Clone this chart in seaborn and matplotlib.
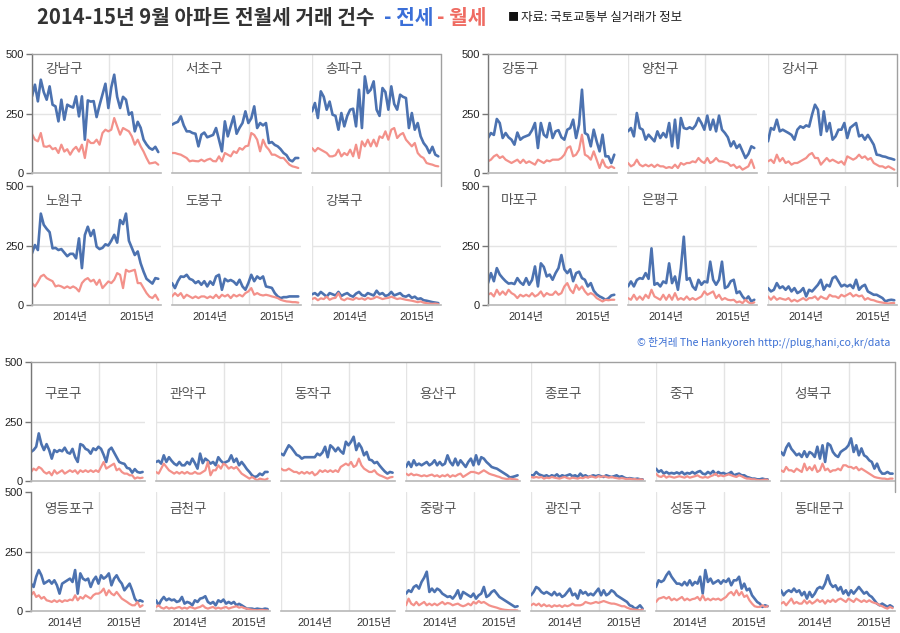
import matplotlib
matplotlib.use('Agg')
import matplotlib.pyplot as plt
import seaborn as sns
import pandas as pd
from matplotlib.lines import Line2D

# ---------------- data (biweekly, 2014-01-01 .. 2015-08-26) ----------------
DATES = pd.date_range('2014-01-01', periods=44, freq='14D')

gangnam_j = [322, 371, 301, 392, 340, 308, 364, 287, 280, 217, 308,
             224, 287, 280, 275, 322, 238, 322, 140, 305, 300, 302,
             235, 285, 330, 375, 273, 360, 413, 320, 273, 320, 308,
             245, 255, 175, 215, 190, 140, 120, 105, 98, 110, 88]
gangnam_w = [164, 140, 133, 168, 112, 110, 115, 100, 105, 84, 119,
             90, 100, 77, 98, 110, 90, 119, 63, 140, 126, 126,
             140, 119, 168, 182, 175, 182, 231, 196, 161, 189, 182,
             175, 154, 119, 140, 112, 90, 63, 40, 42, 45, 35]
seocho_j = [203, 210, 215, 238, 200, 175, 175, 168, 165, 112, 161,
            170, 150, 155, 160, 189, 140, 91, 217, 154, 196, 238,
            165, 190, 210, 259, 210, 230, 280, 189, 210, 200, 210,
            126, 130, 118, 112, 100, 84, 75, 55, 49, 63, 63]
seocho_w = [84, 84, 80, 77, 70, 63, 49, 52, 50, 49, 56,
            49, 56, 60, 50, 49, 70, 49, 84, 77, 70, 91,
            84, 105, 98, 112, 115, 168, 160, 140, 91, 140, 112,
            98, 77, 77, 70, 63, 63, 49, 35, 28, 25, 21]
songpa_j = [259, 294, 231, 343, 320, 266, 300, 245, 240, 182, 252,
            196, 240, 266, 270, 196, 350, 189, 406, 336, 350, 385,
            266, 240, 357, 340, 266, 364, 290, 266, 329, 320, 315,
            189, 252, 182, 210, 154, 126, 110, 84, 110, 77, 70]
songpa_w = [105, 91, 105, 98, 91, 84, 70, 70, 75, 98, 70,
            84, 75, 98, 70, 119, 63, 133, 112, 140, 112, 140,
            112, 154, 147, 175, 140, 182, 189, 147, 161, 168, 140,
            126, 112, 126, 84, 70, 63, 42, 38, 35, 30, 28]
nowon_j = [217, 252, 231, 384, 337, 320, 306, 238, 240, 231, 235,
           220, 205, 215, 215, 196, 280, 155, 294, 329, 290, 315,
           245, 235, 240, 255, 250, 270, 295, 262, 357, 340, 384,
           270, 240, 210, 225, 175, 140, 110, 100, 90, 113, 110]
nowon_w = [92, 78, 97, 120, 127, 113, 106, 100, 78, 82, 78,
           71, 78, 71, 78, 71, 57, 92, 106, 113, 99, 106,
           85, 106, 71, 85, 99, 92, 106, 134, 127, 71, 148,
           140, 144, 148, 92, 92, 71, 50, 35, 29, 43, 22]
dobong_j = [92, 71, 100, 120, 118, 127, 110, 105, 92, 100, 85,
            100, 78, 99, 85, 120, 127, 64, 110, 100, 105, 98,
            85, 106, 78, 64, 92, 127, 100, 120, 110, 120, 78,
            75, 72, 50, 36, 29, 33, 33, 36, 36, 36, 36]
dobong_w = [36, 50, 38, 50, 29, 43, 36, 29, 36, 29, 36,
            36, 29, 36, 29, 43, 29, 43, 36, 43, 29, 43,
            36, 43, 36, 50, 57, 71, 43, 50, 43, 40, 43,
            40, 36, 33, 29, 22, 18, 15, 14, 12, 12, 10]
gangbuk_j = [45, 50, 40, 55, 45, 35, 50, 45, 40, 55, 38,
             45, 50, 40, 35, 48, 55, 42, 38, 50, 45, 40,
             60, 45, 50, 38, 42, 55, 40, 45, 50, 38, 35,
             42, 30, 35, 25, 28, 20, 18, 15, 12, 10, 8]
gangbuk_w = [25, 30, 20, 28, 25, 35, 22, 28, 30, 50, 25,
             20, 28, 25, 22, 30, 25, 28, 22, 30, 25, 28,
             35, 30, 25, 28, 30, 35, 30, 25, 28, 25, 22,
             20, 18, 15, 12, 15, 10, 8, 6, 5, 6, 4]
gangdong_j = [147, 168, 160, 227, 210, 147, 168, 150, 140, 119, 170,
              140, 150, 155, 160, 180, 210, 105, 210, 161, 150, 210,
              147, 175, 180, 150, 140, 182, 189, 224, 147, 203, 350,
              168, 160, 112, 182, 133, 91, 161, 70, 70, 42, 77]
gangdong_w = [49, 56, 70, 77, 63, 70, 56, 49, 42, 49, 56,
              42, 56, 42, 49, 42, 35, 56, 49, 42, 53, 49,
              56, 56, 56, 63, 77, 105, 112, 70, 77, 98, 161,
              77, 70, 56, 91, 56, 21, 56, 28, 21, 28, 21]
yangcheon_j = [175, 189, 154, 252, 189, 182, 140, 161, 147, 133, 175,
               147, 168, 150, 210, 112, 224, 105, 231, 189, 185, 192,
               185, 200, 231, 210, 182, 241, 182, 224, 175, 241, 182,
               168, 150, 112, 133, 105, 119, 91, 63, 80, 112, 105]
yangcheon_w = [42, 28, 35, 56, 35, 28, 35, 28, 35, 25, 35,
               28, 28, 21, 25, 21, 35, 21, 42, 35, 42, 42,
               49, 45, 63, 49, 42, 63, 42, 49, 63, 49, 49,
               45, 42, 30, 35, 21, 28, 14, 21, 28, 56, 21]
gangseo_j = [133, 189, 182, 224, 175, 182, 175, 168, 160, 140, 182,
             196, 190, 200, 195, 245, 287, 266, 160, 259, 175, 210,
             140, 154, 182, 182, 210, 147, 190, 200, 210, 154, 160,
             140, 160, 140, 119, 77, 75, 70, 68, 63, 60, 56]
gangseo_w = [49, 56, 42, 77, 49, 63, 42, 49, 35, 42, 42,
             49, 56, 63, 77, 84, 63, 63, 35, 49, 63, 49,
             56, 49, 42, 49, 35, 70, 63, 56, 63, 77, 63,
             70, 56, 63, 42, 35, 28, 28, 21, 28, 21, 14]
mapo_j = [92, 134, 100, 155, 128, 113, 100, 90, 92, 88, 113,
          95, 85, 113, 85, 105, 162, 78, 175, 160, 120, 128,
          106, 134, 155, 210, 150, 134, 150, 100, 134, 140, 113,
          106, 78, 92, 60, 45, 36, 30, 22, 28, 40, 43]
mapo_w = [43, 50, 36, 64, 43, 57, 43, 64, 50, 43, 29,
          43, 36, 43, 36, 50, 36, 43, 57, 36, 50, 43,
          43, 57, 43, 50, 78, 92, 64, 50, 85, 64, 78,
          57, 43, 50, 43, 29, 22, 15, 22, 20, 22, 22]
eunpyeong_j = [78, 99, 78, 105, 113, 110, 134, 110, 238, 85, 92,
               78, 99, 92, 175, 92, 120, 64, 155, 287, 106, 113,
               78, 64, 106, 85, 99, 95, 182, 106, 85, 106, 182,
               71, 78, 100, 106, 50, 57, 36, 22, 36, 15, 22]
eunpyeong_w = [29, 22, 43, 22, 36, 22, 43, 29, 64, 36, 29,
               22, 43, 22, 43, 22, 50, 22, 29, 22, 36, 22,
               29, 22, 29, 36, 57, 43, 50, 57, 29, 43, 22,
               29, 22, 20, 22, 11, 15, 8, 22, 11, 6, 11]
seodaemun_j = [71, 57, 64, 92, 71, 78, 64, 78, 57, 71, 50,
               57, 71, 36, 64, 57, 71, 85, 106, 64, 85, 78,
               113, 120, 99, 78, 85, 78, 85, 71, 106, 64, 78,
               85, 57, 50, 43, 43, 36, 29, 15, 20, 22, 20]
seodaemun_w = [36, 22, 36, 22, 29, 25, 22, 29, 15, 22, 15,
               22, 29, 20, 29, 29, 36, 22, 36, 29, 25, 43,
               36, 36, 29, 43, 36, 43, 50, 36, 43, 36, 40,
               22, 29, 22, 20, 15, 12, 10, 8, 6, 8, 8]
guro_j = [122, 130, 144, 200, 155, 130, 155, 130, 94, 130, 122,
          130, 125, 140, 120, 115, 135, 100, 80, 155, 150, 135,
          130, 115, 137, 130, 144, 135, 110, 80, 130, 140, 120,
          100, 80, 75, 72, 55, 52, 35, 50, 38, 35, 38]
guro_w = [38, 52, 45, 59, 52, 38, 31, 38, 24, 45, 31,
          38, 45, 31, 38, 45, 38, 45, 31, 45, 38, 45,
          38, 45, 38, 45, 38, 59, 80, 52, 59, 66, 73,
          45, 52, 38, 31, 31, 24, 24, 10, 15, 12, 14]
gwanak_j = [80, 85, 73, 108, 80, 100, 85, 73, 66, 80, 66,
            66, 80, 70, 94, 75, 52, 115, 75, 94, 85, 73,
            80, 66, 100, 85, 75, 80, 85, 108, 80, 94, 66,
            80, 66, 50, 38, 24, 17, 20, 31, 25, 38, 38]
gwanak_w = [38, 31, 52, 73, 59, 45, 38, 31, 38, 31, 38,
            31, 38, 31, 31, 38, 31, 31, 38, 45, 80, 24,
            45, 45, 66, 52, 73, 66, 52, 59, 52, 59, 45,
            31, 24, 17, 10, 17, 10, 3, 10, 7, 5, 10]
dongjak_j = [115, 108, 130, 150, 140, 125, 110, 105, 94, 100, 100,
             100, 100, 100, 115, 108, 120, 144, 100, 150, 140, 125,
             140, 125, 115, 165, 150, 165, 186, 130, 158, 140, 108,
             122, 90, 87, 75, 80, 65, 52, 40, 31, 38, 35]
dongjak_w = [52, 45, 45, 52, 45, 38, 38, 31, 38, 31, 38,
             31, 38, 24, 31, 45, 38, 45, 38, 45, 38, 45,
             38, 59, 66, 73, 66, 80, 59, 66, 94, 66, 52,
             45, 38, 38, 45, 31, 24, 20, 15, 10, 15, 17]
yongsan_j = [59, 80, 59, 87, 66, 73, 66, 73, 80, 66, 73,
             87, 66, 80, 66, 73, 108, 80, 66, 94, 66, 87,
             73, 59, 80, 94, 66, 108, 70, 100, 94, 80, 70,
             59, 55, 52, 45, 38, 31, 24, 15, 17, 20, 24]
yongsan_w = [31, 24, 31, 24, 27, 24, 20, 24, 20, 24, 27,
             20, 24, 17, 24, 20, 27, 17, 24, 20, 27, 31,
             17, 24, 31, 38, 38, 35, 31, 38, 45, 38, 31,
             27, 24, 20, 17, 12, 10, 8, 10, 8, 7, 5]
jongno_j = [24, 24, 38, 28, 24, 20, 24, 17, 24, 20, 28,
            17, 24, 20, 24, 28, 20, 24, 17, 31, 20, 24,
            17, 20, 24, 20, 24, 20, 17, 24, 20, 17, 20,
            24, 17, 20, 14, 10, 12, 10, 8, 10, 7, 7]
jongno_w = [17, 14, 17, 14, 17, 10, 14, 12, 17, 14, 12,
            10, 14, 17, 12, 10, 14, 12, 10, 14, 12, 17,
            14, 20, 17, 14, 20, 17, 20, 17, 14, 17, 14,
            12, 10, 12, 10, 8, 10, 7, 8, 5, 7, 6]
junggu_j = [52, 38, 45, 31, 38, 31, 34, 31, 36, 31, 38,
            28, 34, 31, 38, 31, 38, 42, 31, 28, 38, 31,
            42, 28, 38, 31, 34, 28, 31, 38, 24, 28, 31,
            24, 24, 17, 14, 10, 10, 7, 7, 10, 7, 7]
junggu_w = [31, 20, 17, 24, 14, 20, 17, 14, 17, 20, 17,
            14, 20, 14, 17, 20, 24, 17, 14, 17, 14, 20,
            24, 31, 20, 24, 20, 24, 28, 24, 20, 17, 24,
            20, 14, 10, 10, 7, 7, 4, 3, 4, 6, 5]
seongbuk_j = [122, 108, 140, 158, 135, 122, 108, 115, 101, 125, 101,
              122, 115, 101, 144, 94, 150, 80, 158, 150, 122, 108,
              101, 122, 130, 137, 150, 179, 122, 150, 108, 137, 108,
              101, 87, 80, 52, 73, 45, 31, 31, 38, 31, 31]
seongbuk_w = [45, 38, 59, 45, 45, 38, 52, 45, 38, 73, 45,
              59, 45, 66, 38, 45, 73, 45, 52, 38, 45, 45,
              52, 45, 66, 66, 59, 59, 52, 59, 45, 52, 45,
              38, 31, 24, 17, 14, 12, 10, 10, 7, 10, 10]
yeongdeungpo_j = [115, 101, 144, 172, 150, 115, 122, 129, 115, 129, 108,
                  73, 115, 122, 129, 136, 122, 172, 73, 158, 136, 129,
                  136, 101, 129, 144, 115, 150, 136, 144, 158, 108, 136,
                  150, 129, 115, 87, 101, 115, 87, 52, 38, 45, 40]
yeongdeungpo_w = [66, 80, 59, 66, 52, 59, 45, 42, 38, 45, 38,
                  45, 38, 45, 42, 48, 45, 66, 45, 59, 52, 66,
                  59, 52, 66, 73, 73, 80, 94, 66, 87, 73, 66,
                  80, 66, 52, 45, 38, 30, 24, 24, 38, 17, 24]
geumcheon_j = [45, 24, 45, 59, 45, 52, 45, 48, 38, 42, 59,
               31, 38, 34, 24, 45, 38, 52, 55, 62, 38, 31,
               38, 24, 45, 38, 48, 31, 38, 31, 38, 24, 30,
               24, 17, 10, 10, 10, 7, 10, 8, 7, 10, 8]
geumcheon_w = [17, 24, 14, 10, 17, 10, 14, 10, 14, 17, 10,
               14, 10, 17, 14, 10, 14, 17, 24, 14, 10, 14,
               17, 10, 14, 10, 14, 17, 10, 14, 17, 20, 14,
               17, 12, 10, 7, 5, 4, 3, 4, 5, 3, 3]
jungnang_j = [73, 87, 80, 101, 108, 94, 122, 140, 165, 80, 94,
              80, 94, 87, 73, 66, 59, 62, 52, 66, 87, 52,
              80, 73, 66, 59, 73, 52, 66, 73, 101, 59, 66,
              80, 87, 73, 59, 52, 45, 38, 31, 24, 17, 20]
jungnang_w = [24, 52, 31, 24, 38, 24, 31, 38, 24, 31, 24,
              31, 24, 31, 38, 28, 34, 31, 24, 28, 31, 24,
              20, 24, 31, 24, 38, 31, 42, 34, 38, 31, 24,
              20, 17, 14, 10, 7, 5, 4, 3, 3, 3, 2]
gwangjin_j = [66, 80, 101, 94, 80, 73, 80, 73, 66, 80, 66,
              73, 59, 66, 80, 94, 66, 73, 52, 87, 73, 80,
              66, 73, 66, 80, 94, 66, 87, 66, 73, 87, 80,
              66, 59, 52, 45, 38, 24, 20, 10, 14, 24, 10]
gwangjin_w = [24, 31, 24, 31, 20, 28, 20, 24, 17, 24, 20,
              24, 17, 24, 20, 24, 31, 24, 24, 24, 28, 38,
              34, 31, 34, 38, 34, 38, 42, 38, 34, 31, 31,
              28, 24, 20, 20, 14, 10, 7, 6, 4, 3, 6]
seongdong_j = [101, 129, 122, 129, 150, 165, 144, 129, 115, 115, 108,
               122, 108, 129, 108, 122, 115, 144, 73, 172, 122, 136,
               115, 122, 129, 115, 129, 122, 136, 108, 129, 129, 144,
               94, 115, 87, 94, 66, 52, 38, 31, 17, 24, 20]
seongdong_w = [38, 52, 55, 59, 52, 59, 45, 52, 45, 52, 59,
               45, 52, 45, 50, 52, 59, 45, 66, 45, 52, 45,
               52, 48, 52, 45, 52, 59, 73, 80, 66, 87, 66,
               80, 59, 66, 45, 31, 20, 17, 17, 24, 17, 20]
dongdaemun_j = [87, 66, 80, 87, 80, 94, 80, 87, 66, 80, 52,
                80, 59, 73, 94, 101, 94, 115, 150, 115, 101, 108,
                87, 101, 73, 87, 66, 87, 73, 87, 101, 87, 73,
                80, 66, 59, 45, 31, 24, 31, 24, 17, 24, 17]
dongdaemun_w = [31, 38, 24, 38, 52, 31, 38, 31, 31, 45, 31,
                42, 31, 38, 48, 38, 45, 31, 45, 38, 48, 38,
                48, 52, 45, 38, 52, 45, 38, 52, 45, 38, 45,
                38, 45, 38, 34, 31, 24, 20, 14, 10, 17, 12]

SERIES = {
    '강남구': (gangnam_j, gangnam_w), '서초구': (seocho_j, seocho_w),
    '송파구': (songpa_j, songpa_w), '노원구': (nowon_j, nowon_w),
    '도봉구': (dobong_j, dobong_w), '강북구': (gangbuk_j, gangbuk_w),
    '강동구': (gangdong_j, gangdong_w), '양천구': (yangcheon_j, yangcheon_w),
    '강서구': (gangseo_j, gangseo_w), '마포구': (mapo_j, mapo_w),
    '은평구': (eunpyeong_j, eunpyeong_w), '서대문구': (seodaemun_j, seodaemun_w),
    '구로구': (guro_j, guro_w), '관악구': (gwanak_j, gwanak_w),
    '동작구': (dongjak_j, dongjak_w), '용산구': (yongsan_j, yongsan_w),
    '종로구': (jongno_j, jongno_w), '중구': (junggu_j, junggu_w),
    '성북구': (seongbuk_j, seongbuk_w), '영등포구': (yeongdeungpo_j, yeongdeungpo_w),
    '금천구': (geumcheon_j, geumcheon_w), '중랑구': (jungnang_j, jungnang_w),
    '광진구': (gwangjin_j, gwangjin_w), '성동구': (seongdong_j, seongdong_w),
    '동대문구': (dongdaemun_j, dongdaemun_w),
}

YTICKS = [0, 250, 500]
YEAR_LINES = ['2014-01-01', '2015-01-01']
XLABEL_POS = ['2014-07-02', '2015-05-15']
XLABELS = ['2014년', '2015년']

frames = []
for name, (j, w) in SERIES.items():
    frames.append(pd.DataFrame({'date': DATES, 'value': j, 'kind': '전세', 'gu': name}))
    frames.append(pd.DataFrame({'date': DATES, 'value': w, 'kind': '월세', 'gu': name}))
df = pd.concat(frames, ignore_index=True)

# ---------------- style ----------------
sns.set_theme(style='white')
plt.rcParams['font.family'] = ['Noto Sans CJK KR', 'DejaVu Sans']
NUMFONT = ['Liberation Sans', 'Noto Sans CJK KR']

BLUE = '#4c72b0'
RED = '#f3918a'
GRID = '#e4e4e4'
FRAME = '#a0a0a0'

W, H = 900, 633
fig = plt.figure(figsize=(9, 6.33), dpi=100)
fig.patch.set_facecolor('white')


def rect(x, y, w, h):
    return [x / W, 1 - (y + h) / H, w / W, h / H]


def hline(x1, x2, y, color=FRAME, lw=1.0):
    fig.add_artist(Line2D([x1 / W, x2 / W], [1 - y / H, 1 - y / H],
                          transform=fig.transFigure, color=color, lw=lw))


def vline(x, y1, y2, color=FRAME, lw=1.0):
    fig.add_artist(Line2D([x / W, x / W], [1 - y1 / H, 1 - y2 / H],
                          transform=fig.transFigure, color=color, lw=lw))


X0 = pd.Timestamp('2014-01-01')
X1 = pd.Timestamp('2015-09-08')

groups = [
    dict(xs=[32, 172, 312], w=129, tops=[54, 186], h=119, lab_y=[15, 15],
         grid=[['강남구', '서초구', '송파구'], ['노원구', '도봉구', '강북구']]),
    dict(xs=[488, 628, 768], w=129, tops=[54, 186], h=119, lab_y=[15, 14],
         grid=[['강동구', '양천구', '강서구'], ['마포구', '은평구', '서대문구']]),
    dict(xs=[31 + 125 * k for k in range(7)], w=114, tops=[362, 492], h=119, lab_y=[32, 17],
         grid=[['구로구', '관악구', '동작구', '용산구', '종로구', '중구', '성북구'],
               ['영등포구', '금천구', None, '중랑구', '광진구', '성동구', '동대문구']]),
]

for g in groups:
    w, h = g['w'], g['h']
    for r, top in enumerate(g['tops']):
        for c, x in enumerate(g['xs']):
            name = g['grid'][r][c]
            ax = fig.add_axes(rect(x, top, w, h))
            ax.set_facecolor('none')
            if name is not None:
                sub = df[df.gu == name]
                sns.lineplot(data=sub[sub.kind == '전세'], x='date', y='value',
                             color=BLUE, lw=1.9, ax=ax, legend=False, errorbar=None)
                sns.lineplot(data=sub[sub.kind == '월세'], x='date', y='value',
                             color=RED, lw=1.6, ax=ax, legend=False, errorbar=None)
                ax.text(13 / w, 1 - g['lab_y'][r] / h, name, transform=ax.transAxes,
                        fontsize=9.8, color='#555555', va='center', ha='left')
            ax.set_xlim(X0, X1)
            ax.set_ylim(0, 500)
            ax.set_xlabel('')
            ax.set_ylabel('')
            ax.axhline(250, color=GRID, lw=1, zorder=0)
            ax.set_xticks([pd.Timestamp(d) for d in YEAR_LINES])
            ax.set_xticklabels([])
            ax.grid(True, axis='x', which='major', color=GRID, lw=1, zorder=0)
            ax.set_axisbelow(True)
            if r == len(g['tops']) - 1:
                ax.set_xticks([pd.Timestamp(d) for d in XLABEL_POS], XLABELS, minor=True)
                for t in ax.get_xticklabels(minor=True):
                    t.set_fontfamily(NUMFONT)
            ax.tick_params(axis='x', which='both', length=0, pad=5,
                           labelsize=8, labelcolor='#333333')
            for s in ['top', 'right', 'left']:
                ax.spines[s].set_visible(False)
            ax.spines['bottom'].set_color('#b8b8b8')
            ax.spines['bottom'].set_linewidth(1.2)
            if c == 0:
                ax.spines['left'].set_visible(True)
                ax.spines['left'].set_color('#777777')
                ax.spines['left'].set_linewidth(1)
                ax.set_yticks(YTICKS)
                ax.set_yticklabels([str(v) for v in YTICKS], fontfamily=NUMFONT)
                ax.tick_params(axis='y', length=4, width=1, color='#777777', pad=2,
                               labelsize=8, labelcolor='#222222', direction='out', left=True)
            else:
                ax.set_yticks([])

    # frame (top + right side of first row)
    x_left = g['xs'][0]
    x_right = g['xs'][-1] + w
    hline(x_left, x_right, g['tops'][0])
    vline(x_right, g['tops'][0], g['tops'][1])

# ---------------- texts ----------------
fig.canvas.draw()
renderer = fig.canvas.get_renderer()
ty = 1 - 17 / H
t1 = fig.text(37 / W, ty, '2014-15년 9월 아파트 전월세 거래 건수', fontsize=14.6,
              weight='bold', color='#333333', va='center', ha='left')
bb = t1.get_window_extent(renderer=renderer)
t2 = fig.text((bb.x1 + 9) / W, ty, '- 전세', fontsize=14.6, weight='bold',
              color='#3b6fd8', va='center', ha='left')
bb2 = t2.get_window_extent(renderer=renderer)
t3 = fig.text((bb2.x1 + 4) / W, ty, '- 월세', fontsize=14.6, weight='bold',
              color='#ef6b62', va='center', ha='left')
fig.text(508 / W, ty, '■', fontsize=8, color='#111111', va='center', ha='left')
fig.text(521 / W, ty, '자료: 국토교통부 실거래가 정보', fontsize=9,
         color='#222222', va='center', ha='left')
fig.text(890 / W, 1 - 342 / H, '© 한겨레 The Hankyoreh http://plug,hani,co,kr/data',
         fontsize=7.6, color='#3b6fd4', va='center', ha='right')

fig.savefig('out.png', dpi=100, facecolor='white')
